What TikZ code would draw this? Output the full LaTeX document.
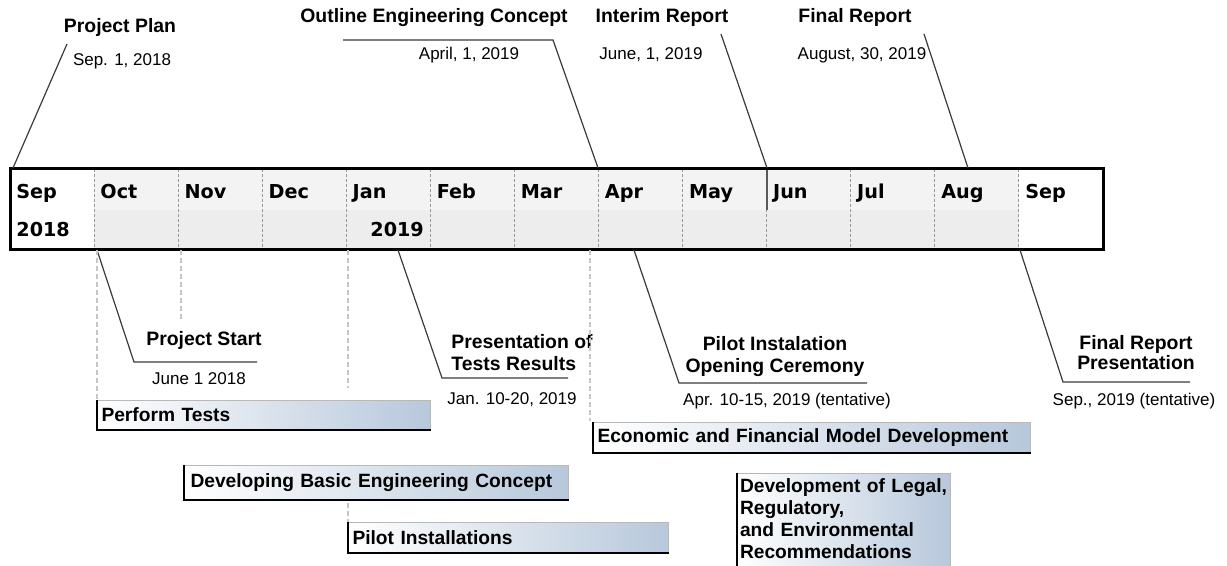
\documentclass[tikz,border=0pt]{standalone}
\usepackage{fontspec}
\setmainfont{Liberation Sans}
\newfontfamily\monthfont{DejaVu Sans}
\definecolor{barblue}{HTML}{B7C8DB}
\definecolor{cellup}{HTML}{F3F3F3}
\definecolor{celllow}{HTML}{EDEDED}
\definecolor{leader}{HTML}{3A3A3A}
\tikzset{
  milestone/.style={font=\fontsize{9.7}{11}\selectfont\bfseries, inner sep=0pt, anchor=base},
  datelabel/.style={font=\fontsize{8.5}{10}\selectfont, inner sep=0pt, anchor=base},
  monthlabel/.style={font=\monthfont\fontsize{9.6}{11}\selectfont\bfseries, inner sep=0pt, anchor=base west},
  leaderline/.style={leader, line width=0.6pt},
  monthsep/.style={gray!80, dash pattern=on 1.5pt off 1pt, line width=0.5pt},
  guide/.style={gray!45, dash pattern=on 2.5pt off 1.5pt, line width=0.7pt},
  taskbar/.style={anchor=north west, draw=gray!55, line width=0.5pt, left color=white, right color=barblue,
    inner xsep=2pt, inner ysep=0pt, align=left, font=\fontsize{9.6}{11}\selectfont\bfseries},
  barshadow/.style={black, line width=0.9pt}
}
\begin{document}
\begin{tikzpicture}[x=0.5pt,y=-0.5pt]
  \useasboundingbox (0,0) rectangle (1227,566);

  % months
  \fill[cellup] (94.08,169) rectangle (1019,210);
  \fill[celllow] (94.08,210) rectangle (1019,250);
  \foreach \i in {1,...,12}
    \draw[monthsep] ({10+84.08*\i},169) -- ({10+84.08*\i},250);
  \draw[gray!70!black, line width=0.8pt] (767,169) -- (767,210);
  \foreach \m [count=\i from 0] in {Sep,Oct,Nov,Dec,Jan,Feb,Mar,Apr,May,Jun,Jul,Aug,Sep}
    \node[monthlabel] (month-\i) at ({16+84.08*\i},199) {\m};
  \node[monthlabel] (year-a) at (16,237) {2018};
  \node[monthlabel] (year-b) at (370,237) {2019};
  \draw[line width=1.5pt] (10,169) rectangle (1103,250);

  % milestones above
  \node[milestone] (plan) at (120,33) {Project Plan};
  \node[datelabel] (plan-date) at (122,66) {Sep. 1, 2018};
  \coordinate (plan-a) at (67,44);
  \coordinate (plan-b) at (13,168);
  \draw[leaderline] (plan-a) -- (plan-b);

  \node[milestone] (concept) at (434,23) {Outline Engineering Concept};
  \node[datelabel] (concept-date) at (469,60) {April, 1, 2019};
  \coordinate (concept-a) at (343,40);
  \coordinate (concept-b) at (553,40);
  \coordinate (concept-c) at (598,168);
  \draw[leaderline] (concept-a) -- (concept-b) -- (concept-c);

  \node[milestone] (interim) at (662,23) {Interim Report};
  \node[datelabel] (interim-date) at (651,60) {June, 1, 2019};
  \coordinate (interim-a) at (721,34);
  \coordinate (interim-b) at (767,168);
  \draw[leaderline] (interim-a) -- (interim-b);

  \node[milestone] (final) at (855,23) {Final Report};
  \node[datelabel] (final-date) at (862,60) {August, 30, 2019};
  \coordinate (final-a) at (924,34);
  \coordinate (final-b) at (968,168);
  \draw[leaderline] (final-a) -- (final-b);

  % milestones below
  \node[milestone] (start) at (204,346) {Project Start};
  \node[datelabel] (start-date) at (199,385) {June 1 2018};
  \coordinate (start-a) at (97,250);
  \coordinate (start-b) at (134,362);
  \coordinate (start-c) at (257,362);
  \draw[leaderline] (start-a) -- (start-b) -- (start-c);

  \node[milestone, anchor=north west, align=left] (results) at (451,334) {Presentation of\\Tests Results};
  \node[datelabel] (results-date) at (512,405) {Jan. 10-20, 2019};
  \coordinate (results-a) at (398,250);
  \coordinate (results-b) at (442,378);
  \coordinate (results-c) at (568,378);
  \draw[leaderline] (results-a) -- (results-b) -- (results-c);

  \node[milestone, anchor=north, align=center] (opening) at (775,336) {Pilot Instalation\\Opening Ceremony};
  \node[datelabel] (opening-date) at (787,406) {Apr. 10-15, 2019 (tentative)};
  \coordinate (opening-a) at (634,250);
  \coordinate (opening-b) at (679,383);
  \coordinate (opening-c) at (867,383);
  \draw[leaderline] (opening-a) -- (opening-b) -- (opening-c);

  \node[milestone, anchor=north, align=center, font=\fontsize{9.7}{10}\selectfont\bfseries] (presentation) at (1136,335) {Final Report\\Presentation};
  \node[datelabel] (presentation-date) at (1134,406) {Sep., 2019 (tentative)};
  \coordinate (presentation-a) at (1020,250);
  \coordinate (presentation-b) at (1063,382);
  \coordinate (presentation-c) at (1190,382);
  \draw[leaderline] (presentation-a) -- (presentation-b) -- (presentation-c);

  % tasks
  \node[taskbar, text width=162.5pt, minimum height=14.5pt] (tests) at (97,400) {Perform Tests};
  \node[taskbar, inner xsep=3pt, text width=186pt, minimum height=17pt] (basic) at (184,465) {Developing Basic Engineering Concept};
  \node[taskbar, text width=156pt, minimum height=15pt] (pilot) at (348,522) {Pilot Installations};
  \node[taskbar, text width=214.5pt, minimum height=15pt] (economic) at (593,422) {Economic and Financial Model Development};
  \node[taskbar, inner xsep=1.25pt, inner ysep=2.5pt, text width=104pt] (legal) at (737,473)
    {Development of Legal,\\Regulatory,\\and Environmental\\Recommendations\rule[-6pt]{0pt}{6pt}};
  \foreach \b in {tests,basic,pilot,economic,legal}
    \draw[barshadow] (\b.north west) -- (\b.south west) -- (\b.south east);

  \coordinate (oct-b) at (97,250);
  \coordinate (nov-b) at (181,250);
  \coordinate (nov-c) at (181,322);
  \coordinate (jan-b) at (348,250);
  \coordinate (jan-c) at (348,388);
  \coordinate (jan-d) at (348,503);
  \coordinate (mar-b) at (590,250);
  \coordinate (mar-c) at (590,421);
  \draw[guide] (oct-b) -- (tests.north west);
  \draw[guide] (nov-b) -- (nov-c);
  \draw[guide] (jan-b) -- (jan-c);
  \draw[guide] (jan-d) -- (pilot.north west);
  \draw[guide] (mar-b) -- (mar-c);
\end{tikzpicture}
\end{document}
